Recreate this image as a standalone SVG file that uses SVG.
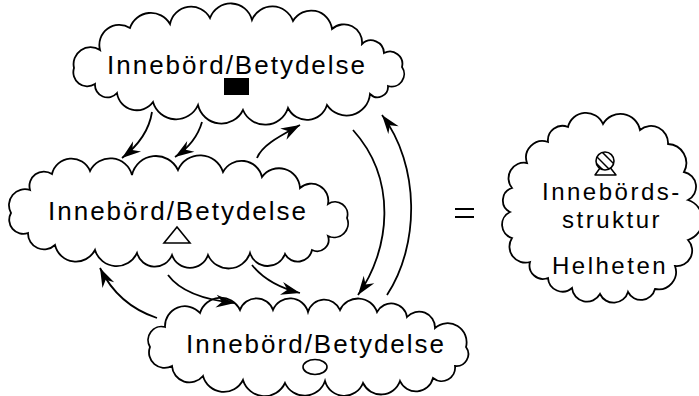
<svg xmlns="http://www.w3.org/2000/svg" width="699" height="396" viewBox="0 0 699 396">
  <style>
    .cloud { fill: #ffffff; stroke: #000000; stroke-width: 1.8; stroke-linejoin: miter; }
    .label { font-family: "Liberation Sans", Arial, Helvetica, sans-serif; font-size: 26px; letter-spacing: 2px; fill: #000000; }
    .label-sm { font-family: "Liberation Sans", Arial, Helvetica, sans-serif; font-size: 24px; letter-spacing: 2.5px; fill: #000000; }
    .conn { fill: none; stroke: #000000; stroke-width: 1.8; marker-end: url(#head); }
    .sym { fill: #ffffff; stroke: #000000; stroke-width: 1.6; }
  </style>
  <defs>
    <marker id="head" viewBox="-20 -8 21 16" markerWidth="21" markerHeight="16" refX="0" refY="0" orient="auto" markerUnits="userSpaceOnUse">
      <path d="M0,0 L-19,-6.5 L-13,0 L-19,6.5 Z" fill="#000000"/>
    </marker>
    <clipPath id="globe-clip">
      <circle cx="605" cy="161" r="9"/>
    </clipPath>
  </defs>
  <rect width="699" height="396" fill="#ffffff"/>

  <!-- top cloud: filled square -->
  <g id="meaning-square">
    <path class="cloud" d="M74,68 A17,17 0 0 1 100,50 A20,20 0 0 1 130,28 A22,22 0 0 1 170,24 A21.5,21.5 0 0 1 210,18 A22,22 0 0 1 252,20 A22,22 0 0 1 293,21 A21,21 0 0 1 332,29 A18,18 0 0 1 362,44 A13,13 0 0 1 384,53 A12.5,12.5 0 0 1 402,67 A12.5,12.5 0 0 1 388,86 A10.5,10.5 0 0 1 370,94 A23.5,23.5 0 0 1 327,105 A21,21 0 0 1 288,108 A24,24 0 0 1 243,110 A24,24 0 0 1 198,105 A24,24 0 0 1 153,102 A20,20 0 0 1 117,93 A12.5,12.5 0 0 1 95,84 A14,14 0 0 1 74,68 Z"/>
    <text class="label" x="107" y="74">Innebörd/Betydelse</text>
    <rect x="224" y="78" width="25" height="17" fill="#000000"/>
  </g>

  <!-- middle cloud: open triangle -->
  <g id="meaning-triangle">
    <path class="cloud" d="M11,213 A16,16 0 0 1 30,190 A14.5,14.5 0 0 1 52,174 A20,20 0 0 1 90,171 A22.5,22.5 0 0 1 132,175 A24.5,24.5 0 0 1 178,170 A24,24 0 0 1 223,172 A21,21 0 0 1 262,177 A21,21 0 0 1 300,188 A17,17 0 0 1 328,204 A12.5,12.5 0 0 1 347,218 A14,14 0 0 1 328,236 A11.5,11.5 0 0 1 312,250 A14.5,14.5 0 0 1 285,254 A18.5,18.5 0 0 1 250,253 A22.5,22.5 0 0 1 208,255 A19,19 0 0 1 172,255 A18.5,18.5 0 0 1 137,253 A22.5,22.5 0 0 1 95,250 A21.5,21.5 0 0 1 55,245 A16,16 0 0 1 28,233 A14,14 0 0 1 11,213 Z"/>
    <text class="label" x="48" y="220">Innebörd/Betydelse</text>
    <path class="sym" d="M177,227 L190,243 L164,243 Z"/>
  </g>

  <!-- bottom cloud: open circle -->
  <g id="meaning-circle">
    <path class="cloud" d="M150,347 A13.5,13.5 0 0 1 165,327 A20,20 0 0 1 200,313 A21.5,21.5 0 0 1 240,310 A17.5,17.5 0 0 1 273,310 A18.5,18.5 0 0 1 308,312 A17,17 0 0 1 340,310 A20,20 0 0 1 377,312 A16,16 0 0 1 407,317 A16,16 0 0 1 435,328 A19,19 0 0 1 466,347 A12,12 0 0 1 455,366 A13.5,13.5 0 0 1 433,378 A17.5,17.5 0 0 1 400,381 A20,20 0 0 1 363,383 A20,20 0 0 1 325,381 A21.5,21.5 0 0 1 285,383 A22.5,22.5 0 0 1 243,380 A21.5,21.5 0 0 1 203,376 A17.5,17.5 0 0 1 172,366 A15.5,15.5 0 0 1 150,347 Z"/>
    <text class="label" x="186" y="353">Innebörd/Betydelse</text>
    <ellipse class="sym" cx="315" cy="367" rx="12" ry="7.5"/>
  </g>

  <!-- equals sign -->
  <g id="equals" stroke="#000000" stroke-width="2">
    <line x1="455" y1="209" x2="474" y2="209"/>
    <line x1="455" y1="217" x2="474" y2="217"/>
  </g>

  <!-- whole: meaning structure -->
  <g id="meaning-structure">
    <path class="cloud" d="M548,142 A14.5,14.5 0 0 1 568,127 A18.5,18.5 0 0 1 603,124 A20,20 0 0 1 640,130 A17,17 0 0 1 668,144 A19,19 0 0 1 684,172 A15,15 0 0 1 688,200 A21,21 0 0 1 688,240 A15.5,15.5 0 0 1 675,266 A17.5,17.5 0 0 1 655,289 A14.5,14.5 0 0 1 628,292 A15,15 0 0 1 600,294 A15,15 0 0 1 572,288 A14.5,14.5 0 0 1 548,278 A13.5,13.5 0 0 1 530,262 A16,16 0 0 1 512,238 A14,14 0 0 1 510,212 A13,13 0 0 1 512,188 A15.5,15.5 0 0 1 527,163 A16.5,16.5 0 0 1 548,142 Z"/>
    <path d="M605,161 L595,175 L616,175 Z" fill="none" stroke="#000000" stroke-width="1.5" stroke-linejoin="round"/>
    <circle cx="605" cy="161" r="9" fill="#ffffff"/>
    <g clip-path="url(#globe-clip)" stroke="#000000" stroke-width="1.5">
      <line x1="590" y1="150" x2="610" y2="170"/>
      <line x1="595" y1="145" x2="615" y2="165"/>
      <line x1="600" y1="140" x2="620" y2="160"/>
      <line x1="590" y1="157" x2="605" y2="172"/>
    </g>
    <circle cx="605" cy="161" r="9" fill="none" stroke="#000000" stroke-width="1.6"/>
    <text class="label-sm" x="542" y="200">Innebörds-</text>
    <text class="label-sm" x="562" y="228">struktur</text>
    <text class="label-sm" x="552" y="274">Helheten</text>
  </g>

  <!-- connectors -->
  <g id="connectors">
    <path class="conn" d="M152,112 Q148,138 122,158"/>
    <path class="conn" d="M202,122 Q196,143 175,157"/>
    <path class="conn" d="M257,158 C262,145 280,136 300,125"/>
    <path class="conn" d="M353,130 C398,180 390,250 358,295"/>
    <path class="conn" d="M387,295 C420,245 420,165 382,115"/>
    <path class="conn" d="M168,275 Q185,298 235,303"/>
    <path class="conn" d="M252,265 Q268,285 300,293"/>
    <path class="conn" d="M157,318 Q118,305 100,268"/>
  </g>
</svg>
